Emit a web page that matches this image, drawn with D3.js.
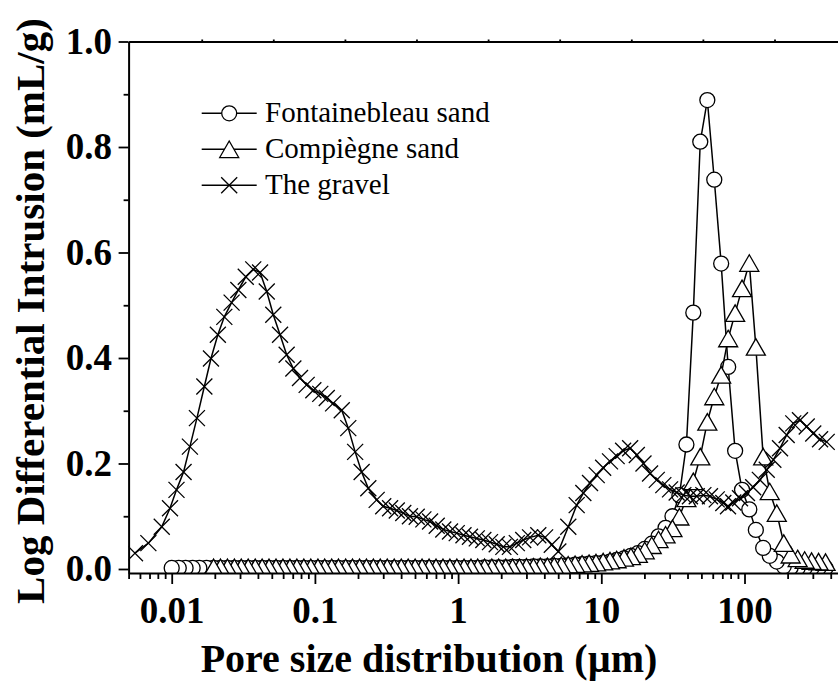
<!DOCTYPE html>
<html>
<head>
<meta charset="utf-8">
<script src="https://cdn.jsdelivr.net/npm/d3@7"></script>
<style>
  body { margin: 0; background: #fff; }
  svg { display: block; font-family: "Liberation Serif", "Times New Roman", serif; }
</style>
</head>
<body>
<div id="chart"></div>
<script>
// gravel (x markers) - pore size in um, log differential intrusion in mL/g
const gravelPore = [0.00554, 0.00687, 0.00852, 0.00973, 0.0108, 0.0121, 0.0134, 0.0150, 0.0169, 0.0188,
  0.0210, 0.0233, 0.0262, 0.0292, 0.0329, 0.0371, 0.0414, 0.0461, 0.0512, 0.0571,
  0.0635, 0.0707, 0.0787, 0.0876, 0.0975, 0.109, 0.121, 0.134, 0.154, 0.171,
  0.191, 0.212, 0.236, 0.270, 0.300, 0.335, 0.373, 0.414, 0.461, 0.514,
  0.572, 0.637, 0.709, 0.788, 0.878, 0.978, 1.09, 1.21, 1.35, 1.50,
  1.67, 1.86, 2.07, 2.30, 2.57, 2.85, 3.18, 3.63, 4.05, 4.51,
  5.01, 5.88, 6.73, 7.49, 8.34, 9.29, 10.3, 11.5, 12.8, 14.2,
  15.9, 17.7, 19.7, 21.9, 24.4, 27.1, 30.2, 33.6, 37.4, 41.6,
  46.4, 51.6, 57.4, 64.0, 71.1, 76.7, 83.5, 93.0, 104, 115,
  128, 143, 159, 177, 197, 219, 244, 272, 302, 337, 375];
const gravelLdi = [0.030, 0.049, 0.080, 0.115, 0.150, 0.184, 0.232, 0.286, 0.346, 0.399,
  0.444, 0.478, 0.505, 0.529, 0.554, 0.568, 0.562, 0.526, 0.482, 0.444,
  0.406, 0.380, 0.362, 0.349, 0.339, 0.332, 0.324, 0.314, 0.301, 0.267,
  0.222, 0.184, 0.153, 0.131, 0.119, 0.115, 0.111, 0.106, 0.100, 0.099,
  0.094, 0.090, 0.082, 0.075, 0.071, 0.068, 0.064, 0.061, 0.058, 0.055,
  0.051, 0.047, 0.042, 0.042, 0.049, 0.055, 0.060, 0.064, 0.060, 0.046,
  0.033, 0.080, 0.121, 0.144, 0.163, 0.178, 0.192, 0.204, 0.214, 0.224,
  0.229, 0.216, 0.200, 0.181, 0.169, 0.159, 0.151, 0.145, 0.140, 0.138,
  0.138, 0.140, 0.138, 0.132, 0.125, 0.119, 0.126, 0.134, 0.144, 0.155,
  0.169, 0.188, 0.207, 0.229, 0.254, 0.276, 0.282, 0.270, 0.257, 0.246, 0.241];

// both sands share the same pressure steps
const sandPore = [0.0100, 0.0112, 0.0125, 0.0140, 0.0156, 0.0175, 0.0196, 0.0219, 0.0245, 0.0274,
  0.0306, 0.0342, 0.0383, 0.0428, 0.0478, 0.0535, 0.0598, 0.0669, 0.0748, 0.0837,
  0.0936, 0.105, 0.117, 0.131, 0.146, 0.164, 0.183, 0.205, 0.229, 0.256,
  0.286, 0.320, 0.358, 0.401, 0.448, 0.501, 0.560, 0.627, 0.701, 0.784,
  0.876, 0.980, 1.10, 1.23, 1.37, 1.53, 1.72, 1.92, 2.15, 2.40,
  2.68, 3.00, 3.36, 3.75, 4.20, 4.69, 5.25, 5.87, 6.56, 7.34,
  8.21, 9.18, 10.3, 11.5, 12.8, 14.4, 16.1, 18.0, 20.1, 22.5,
  25.1, 28.1, 31.4, 35.1, 39.3, 43.9, 49.1, 55.0, 61.5, 68.7,
  76.9, 86.0, 96.1, 108, 120, 135, 150, 168, 188, 210,
  235, 263, 294, 329, 368];
const fontainebleauLdi = [0.002, 0.002, 0.002, 0.002, 0.002, 0.002, 0.002, 0.002, 0.002, 0.002,
  0.002, 0.002, 0.002, 0.002, 0.002, 0.002, 0.002, 0.002, 0.002, 0.002,
  0.002, 0.002, 0.002, 0.002, 0.002, 0.002, 0.002, 0.002, 0.002, 0.002,
  0.002, 0.002, 0.002, 0.002, 0.002, 0.002, 0.002, 0.002, 0.002, 0.002,
  0.002, 0.002, 0.002, 0.002, 0.002, 0.003, 0.003, 0.003, 0.003, 0.004,
  0.004, 0.004, 0.005, 0.005, 0.005, 0.006, 0.006, 0.007, 0.008, 0.009,
  0.010, 0.011, 0.012, 0.014, 0.017, 0.020, 0.025, 0.030, 0.038, 0.048,
  0.062, 0.078, 0.100, 0.140, 0.236, 0.486, 0.810, 0.889, 0.738, 0.579,
  0.383, 0.224, 0.150, 0.113, 0.074, 0.040, 0.025, 0.014, 0.005, 0.003,
  0.002, 0.002, 0.002, 0.002, 0.002];
const compiegneLdi = [null, null, null, null, null, null, 0.003, 0.003, 0.003, 0.003,
  0.003, 0.003, 0.003, 0.003, 0.003, 0.003, 0.003, 0.003, 0.003, 0.003,
  0.003, 0.003, 0.003, 0.003, 0.003, 0.003, 0.003, 0.003, 0.003, 0.003,
  0.003, 0.003, 0.003, 0.003, 0.003, 0.003, 0.003, 0.003, 0.003, 0.003,
  0.003, 0.003, 0.003, 0.003, 0.003, 0.003, 0.003, 0.003, 0.003, 0.003,
  0.003, 0.004, 0.004, 0.005, 0.005, 0.006, 0.007, 0.008, 0.009, 0.010,
  0.011, 0.012, 0.014, 0.016, 0.018, 0.021, 0.024, 0.028, 0.035, 0.045,
  0.056, 0.065, 0.077, 0.099, 0.134, 0.166, 0.213, 0.279, 0.327, 0.368,
  0.437, 0.485, 0.532, 0.580, 0.421, 0.213, 0.147, 0.106, 0.049, 0.027,
  0.020, 0.017, 0.015, 0.014, 0.013];

const seriesNames = ["Fontainebleau sand", "Compiègne sand", "The gravel"];
const xTicks = [0.01, 0.1, 1, 10, 100];
const yTicks = [0, 0.2, 0.4, 0.6, 0.8, 1.0];
const yMinorTicks = [0.1, 0.3, 0.5, 0.7, 0.9];
const topTicks = [0.0162, 0.0512, 0.162, 0.512, 1.62, 5.12, 16.2, 51.2, 162];

let width = 838;
let height = 683;
let svg = d3.select("#chart").append("svg")
  .attr("width", width)
  .attr("height", height);

let x = d3.scaleLog().domain([0.005, 500]).range([128.6, 844.6]);
let y = d3.scaleLinear().domain([-0.0076, 1]).range([573, 41.5]);

svg.append("defs").append("clipPath").attr("id", "plotClip")
  .append("rect")
  .attr("x", x.range()[0]).attr("y", y.range()[1])
  .attr("width", 900).attr("height", y.range()[0] - y.range()[1]);

const symbols = {
  circle: "M7.5,0A7.5,7.5 0 1,1 -7.5,0A7.5,7.5 0 1,1 7.5,0Z",
  triangle: "M0,-8.25L9.5,8.25L-9.5,8.25Z",
  cross: "M-8,-8L8,8M-8,8L8,-8"
};

let plot = svg.append("g").attr("clip-path", "url(#plotClip)");

function addSeries(pore, ldi, kind) {
  let pts = pore.map((p, i) => ({p: p, v: ldi[i]})).filter(d => d.v != null);
  plot.append("path").datum(pts)
    .attr("d", d3.line().x(d => x(d.p)).y(d => y(d.v)))
    .attr("fill", "none")
    .attr("stroke", "#000")
    .attr("stroke-width", 1.5);
  // drawn from large pores to small, like the intrusion run
  plot.append("g").selectAll("path")
    .data(pts.slice().reverse())
    .join("path")
    .attr("transform", d => "translate(" + x(d.p) + "," + y(d.v) + ")")
    .attr("d", symbols[kind])
    .attr("fill", kind === "cross" ? "none" : "#fff")
    .attr("stroke", "#000")
    .attr("stroke-width", 1.3);
}

addSeries(sandPore, fontainebleauLdi, "circle");
addSeries(sandPore, compiegneLdi, "triangle");
addSeries(gravelPore, gravelLdi, "cross");

// axes
let xMinor = x.ticks().filter(t => xTicks.indexOf(t) < 0);

let xAxisG = svg.append("g").attr("transform", "translate(0," + y.range()[0] + ")");
xAxisG.call(d3.axisBottom(x).tickValues(xMinor).tickSize(6).tickSizeOuter(0).tickFormat(""));
xAxisG.append("g")
  .call(d3.axisBottom(x).tickValues(xTicks).tickSize(11).tickSizeOuter(0).tickFormat(d => String(d)))
  .call(g => g.select(".domain").remove());

let yAxisG = svg.append("g").attr("transform", "translate(" + x.range()[0] + ",0)");
yAxisG.call(d3.axisLeft(y).tickValues(yMinorTicks).tickSize(5).tickSizeOuter(0).tickFormat(""));
yAxisG.append("g")
  .call(d3.axisLeft(y).tickValues(yTicks).tickSize(10).tickPadding(6.5).tickFormat(d3.format(".1f")))
  .call(g => g.select(".domain").remove());

let topAxisG = svg.append("g").attr("transform", "translate(0," + y.range()[1] + ")");
topAxisG.call(d3.axisTop(x).tickValues(topTicks).tickSize(2).tickSizeOuter(0).tickFormat(""));

svg.selectAll(".domain").attr("stroke-width", 2);
svg.selectAll(".tick line").attr("stroke-width", 1.8);

xAxisG.selectAll("text")
  .attr("y", 50).attr("dy", null)
  .style("font-size", "37px").style("font-weight", "bold")
  .style("font-family", "'Liberation Serif', 'Times New Roman', serif");
yAxisG.selectAll("text")
  .style("font-size", "37px").style("font-weight", "bold")
  .style("font-family", "'Liberation Serif', 'Times New Roman', serif");

// axis titles
svg.append("text")
  .attr("x", 429).attr("y", 672)
  .attr("text-anchor", "middle")
  .style("font-size", "40px").style("font-weight", "bold")
  .text("Pore size distribution (\u00b5m)");

svg.append("text")
  .attr("transform", "translate(43.5,311) rotate(-90)")
  .attr("text-anchor", "middle")
  .style("font-size", "41px").style("font-weight", "bold")
  .text("Log Differential Intrusion (mL/g)");

// legend
let kinds = ["circle", "triangle", "cross"];
let legend = svg.append("g");
let rows = legend.selectAll("g").data(seriesNames).join("g")
  .attr("transform", (d, i) => "translate(0," + (113.3 + i * 36) + ")");
rows.append("line")
  .attr("x1", 201.7).attr("x2", 256.7)
  .attr("stroke", "#000").attr("stroke-width", 1.5);
rows.append("path")
  .attr("transform", "translate(229.2,0)")
  .attr("d", (d, i) => symbols[kinds[i]])
  .attr("fill", (d, i) => kinds[i] === "cross" ? "none" : "#fff")
  .attr("stroke", "#000").attr("stroke-width", 1.3);
rows.append("text")
  .attr("x", 265).attr("y", 8.5)
  .style("font-size", "29px")
  .text(d => d);
</script>
</body>
</html>
